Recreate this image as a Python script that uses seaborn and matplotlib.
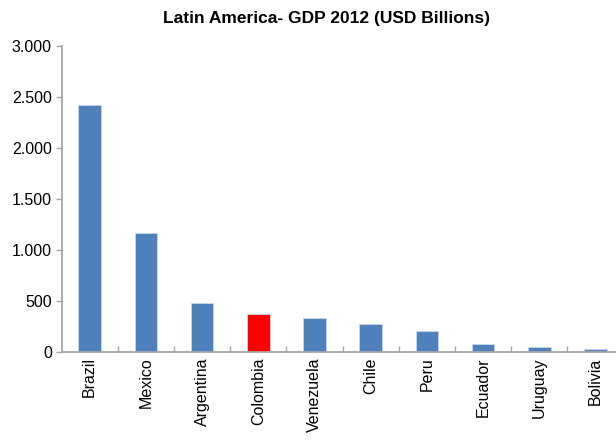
import matplotlib
matplotlib.use("Agg")
import matplotlib.pyplot as plt
import matplotlib.ticker as mticker
from matplotlib import font_manager
import seaborn as sns
import pandas as pd

countries = ["Brazil", "Mexico", "Argentina", "Colombia", "Venezuela",
             "Chile", "Peru", "Ecuador", "Uruguay", "Bolivia"]
gdp_2012 = [2420, 1165, 475, 370, 335, 268, 200, 75, 50, 27]
highlight = "Colombia"
y_ticks = [0, 500, 1000, 1500, 2000, 2500, 3000]

blue = "#4F81BD"
red = "#FF0000"

sns.set_theme(style="white")
plt.rcParams["font.family"] = ["Liberation Sans", "DejaVu Sans"]

available = {f.name for f in font_manager.fontManager.ttflist}
title_family = "Liberation Sans Narrow" if "Liberation Sans Narrow" in available else "Liberation Sans"

df = pd.DataFrame({"country": countries, "gdp": gdp_2012})
palette = {c: (red if c == highlight else blue) for c in countries}

fig = plt.figure(figsize=(6.16, 4.40), dpi=100)
ax = fig.add_axes([61.6 / 616, 88.3 / 440, 562 / 616, 305.7 / 440])

sns.barplot(data=df, x="country", y="gdp", hue="country", palette=palette,
            width=0.40, legend=False, ax=ax, saturation=1,
            edgecolor="#c9d6ea", linewidth=0.6)

ax.set_xlim(-0.5, len(countries) - 0.5)
ax.set_ylim(0, 3000)
ax.set_yticks(y_ticks)
ax.yaxis.set_major_formatter(
    mticker.FuncFormatter(lambda v, _: f"{int(v):,}".replace(",", ".")))

ax.set_xlabel("")
ax.set_ylabel("")

for side in ("top", "right"):
    ax.spines[side].set_visible(False)
for side in ("left", "bottom"):
    ax.spines[side].set_color("#a6a6a6")
    ax.spines[side].set_linewidth(1.3)

ax.tick_params(axis="y", which="major", direction="out", length=4, width=1,
               color="#a6a6a6", labelsize=11.5, labelcolor="black", pad=3, left=True)
# category ticks sit between bars, pointing into the plot
ax.set_xticks(range(len(countries)))
ax.set_xticklabels(countries, rotation=90, fontsize=11.5, color="black")
ax.tick_params(axis="x", which="major", length=0, pad=4)
ax.set_xticks([i + 0.5 for i in range(len(countries) - 1)], minor=True)
ax.tick_params(axis="x", which="minor", direction="in", length=4, width=1,
               color="#a6a6a6", bottom=True)

fig.text(0.53, 0.958, "Latin America- GDP 2012 (USD Billions)",
         ha="center", va="center", fontsize=12.5, fontweight="bold",
         family=[title_family, "DejaVu Sans"], color="black")

fig.savefig("out.png", dpi=100)
